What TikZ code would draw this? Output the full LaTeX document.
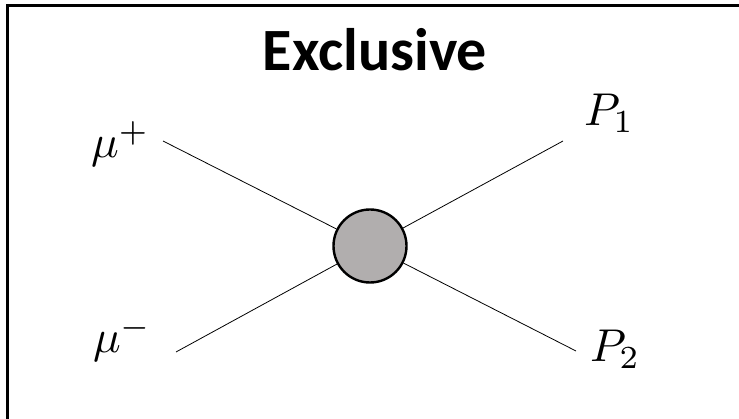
\documentclass[tikz,border=0pt]{standalone}
\usepackage{fontspec}
\newfontfamily\titlefont{Carlito}
\newcommand{\bigmath}[1]{\scalebox{4.6}{$#1$}}
\begin{document}
\begin{tikzpicture}[x=1pt,y=-1pt,
  leg/.style={line width=0.8pt},
  lbl/.style={inner sep=0pt,anchor=base west},
  blob/.style={circle,draw,line width=2.4pt,fill=blobgray,minimum size=73pt,inner sep=0pt}]
\definecolor{blobgray}{RGB}{177,174,174}
\useasboundingbox (0,0) rectangle (739,419);
\draw[line width=2.6pt] (7.5,419) -- (7.5,5.3) -- (739,5.3);
\node[inner sep=0pt,anchor=base,font=\titlefont\bfseries\fontsize{60}{64}\selectfont] (title) at (375,71) {Exclusive};
\node[blob] (v) at (370,246) {};
\coordinate (a) at (163,141);
\coordinate (b) at (176,352);
\coordinate (c) at (563,141);
\coordinate (d) at (576,351);
\draw[leg] (a) -- (v);
\draw[leg] (b) -- (v);
\draw[leg] (c) -- (v);
\draw[leg] (d) -- (v);
\node[lbl] (mup) at (91,158) {\bigmath{\mu^+}};
\node[lbl] (mum) at (93,353) {\bigmath{\mu^-}};
\node[lbl] (p1) at (584,126) {\bigmath{P_1}};
\node[lbl] (p2) at (590,362) {\bigmath{P_2}};
\end{tikzpicture}
\end{document}
